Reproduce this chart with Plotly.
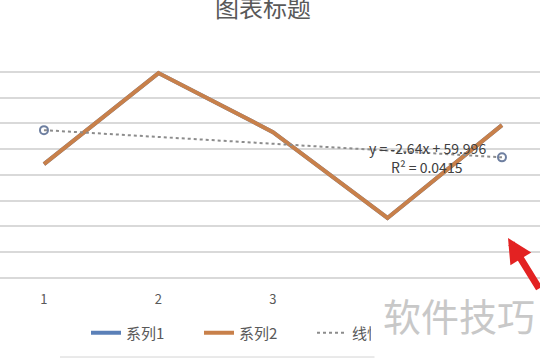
import plotly.graph_objects as go

categories = [1, 2, 3, 4, 5]
tick_labels = ["1", "2", "3", "4", "5"]
series1 = [44.2, 79.5, 56.6, 23.3, 59.3]
series2 = [44.2, 79.5, 56.6, 23.3, 59.3]
trend_slope = -2.64
trend_intercept = 59.996
trend_eq = "y = -2.64x + 59.996"
trend_r2 = "R² = 0.0415"
title_text = "图表标题"
watermark = "软件技巧"
y_ticks = [0, 10, 20, 30, 40, 50, 60, 70, 80, 90]

W, H = 540, 360
ML, MR, MT, MB = 0, 0, 46, 82
FONT = "Noto Sans CJK SC, Microsoft YaHei, sans-serif"

trend_x = [categories[0], categories[-1]]
trend_y = [trend_slope * x + trend_intercept for x in trend_x]

fig = go.Figure()
fig.add_trace(go.Scatter(x=categories, y=series1, mode="lines", name="系列1",
                         line=dict(color="#5b80b8", width=4)))
fig.add_trace(go.Scatter(x=categories, y=series2, mode="lines", name="系列2",
                         line=dict(color="#c8804a", width=4)))
fig.add_trace(go.Scatter(x=trend_x, y=trend_y, mode="lines", name="线性 (系列1)",
                         line=dict(color="#8c8c8c", width=2, dash="dot")))
fig.add_trace(go.Scatter(x=trend_x, y=trend_y, mode="markers", showlegend=False,
                         marker=dict(symbol="circle-open", size=8, color="#6e7fa0",
                                     line=dict(width=2))))

plot_h = H - MT - MB

def py(pix):
    return (H - MB - pix) / plot_h

fig.update_layout(
    width=W, height=H,
    margin=dict(l=ML, r=MR, t=MT, b=MB, autoexpand=False),
    paper_bgcolor="white", plot_bgcolor="white",
    font=dict(family=FONT, color="#595959", size=12),
    title=dict(text=title_text, x=263 / W, xanchor="center", y=1 - 9 / H, yanchor="middle",
               yref="container", font=dict(size=24, color="#595959", family=FONT)),
    xaxis=dict(range=[0.616, 5.332], tickvals=categories, ticktext=tick_labels,
               showgrid=False, zeroline=False, showline=False, ticks="",
               ticklabelstandoff=12, tickfont=dict(size=13, color="#595959")),
    yaxis=dict(range=[0, 90], tickvals=y_ticks, showticklabels=False, showgrid=True,
               gridcolor="#d9d9d9", gridwidth=1.5, zeroline=True,
               zerolinecolor="#d9d9d9", zerolinewidth=1.5, showline=False),
    legend=dict(orientation="h", x=86 / W, xanchor="left", y=1 - 333 / H,
                yanchor="middle", yref="container", font=dict(size=15, color="#595959"),
                bgcolor="rgba(0,0,0,0)", entrywidth=68, entrywidthmode="pixels",
                tracegroupgap=0),
    showlegend=True,
    updatemenus=[dict(
        type="buttons", showactive=False, direction="down",
        x=371 / W, xanchor="left", y=py(327), yanchor="middle",
        bgcolor="white", bordercolor="white", borderwidth=0,
        pad=dict(l=0, r=0, t=0, b=0),
        font=dict(size=38, color="#c8c8c8", family=FONT),
        buttons=[dict(label=watermark, method="skip", args=[None])],
    )],
)

# white cover box below the plot area on the right (hides the last tick labels)
fig.add_annotation(text="", xref="paper", yref="paper", x=1, xanchor="right",
                   y=py(283), yanchor="top", width=164, height=78,
                   bgcolor="white", borderpad=0, showarrow=False)

fig.add_annotation(text=trend_eq, xref="paper", yref="paper", x=427 / W, y=py(148),
                   showarrow=False, font=dict(size=14, color="#404040"),
                   xanchor="center", yanchor="middle")
fig.add_annotation(text=trend_r2, xref="paper", yref="paper", x=427 / W, y=py(167),
                   showarrow=False, font=dict(size=14, color="#404040"),
                   xanchor="center", yanchor="middle")

fig.add_shape(type="line", xref="paper", yref="paper", x0=60 / W, x1=378 / W,
              y0=py(357), y1=py(357), line=dict(color="#d4d4d4", width=1))

fig.add_annotation(text="", xref="paper", yref="paper", x=508 / W, y=py(238),
                   showarrow=True, ax=37, ay=52, arrowcolor="#e32222",
                   arrowwidth=7, arrowhead=2, arrowsize=0.7)

fig.write_html("out.html")
